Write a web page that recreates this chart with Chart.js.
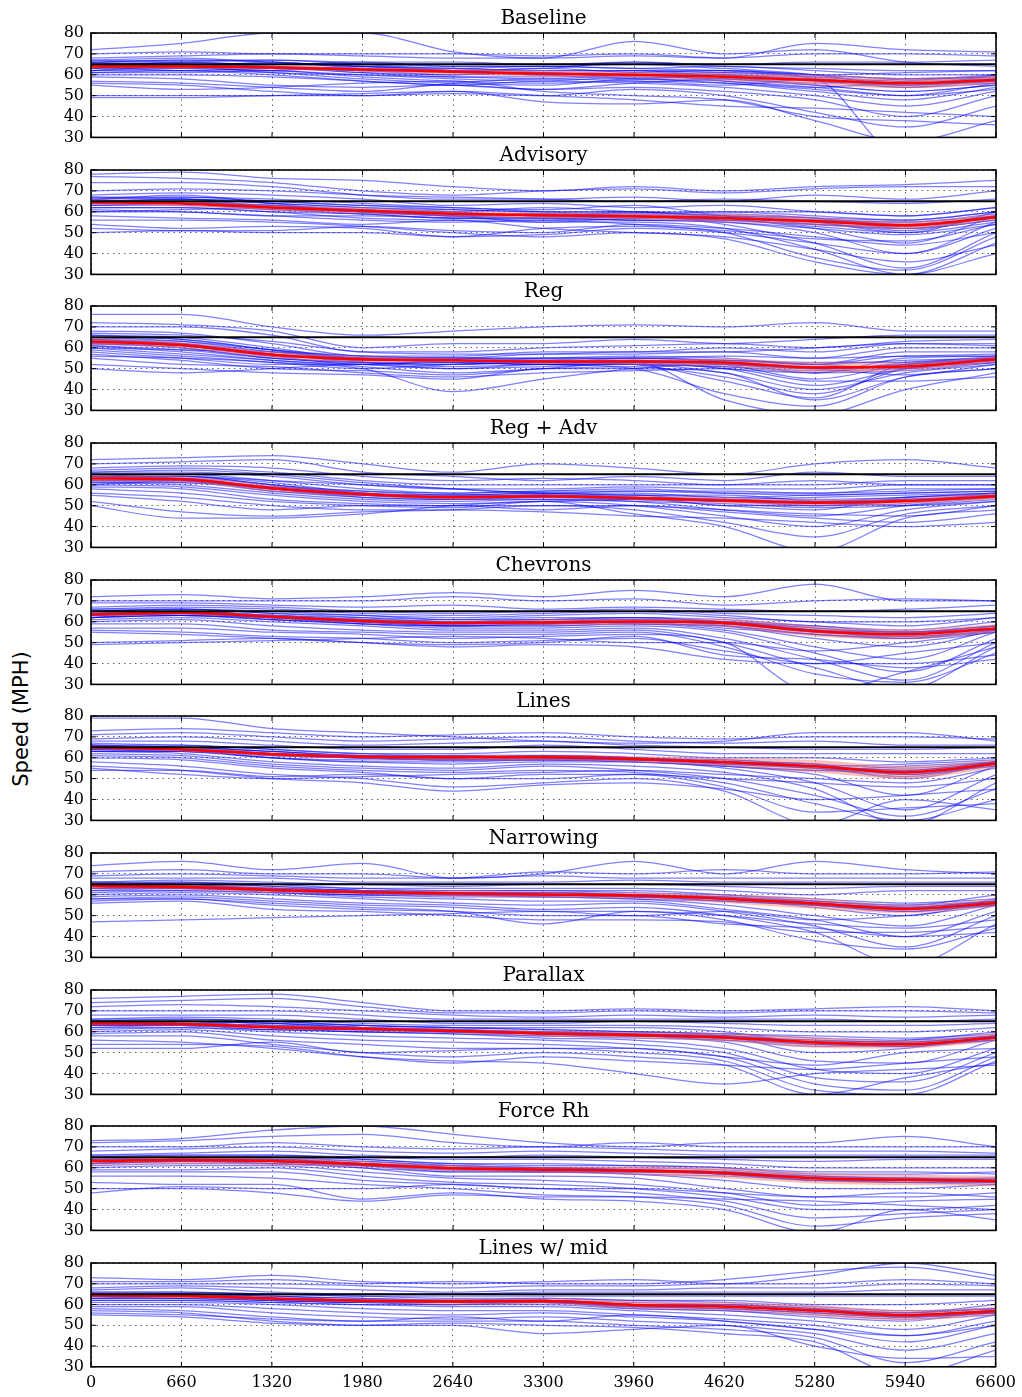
<!DOCTYPE html>
<html>
<head>
<meta charset="utf-8">
<script src="https://cdn.jsdelivr.net/npm/chart.js@4.4.1/dist/chart.umd.min.js"></script>
<style>
  body { margin: 0; background: #fff; }
  #page { position: relative; width: 1022px; height: 1397px; overflow: hidden; }
  #page canvas { position: absolute; left: 0; }
  #ylabel {
    position: absolute; left: 21px; top: 719px;
    transform: translate(-50%, -50%) rotate(-90deg);
    font: 21px "DejaVu Sans", sans-serif; white-space: nowrap; color: #000;
  }
</style>
</head>
<body>
<div id="page"><div id="ylabel">Speed (MPH)</div></div>
<script>
// sample positions along the road (ft)
const stations = [0, 660, 1320, 1980, 2640, 3300, 3960, 4620, 5280, 5940, 6600];
const speedLimit = 65;

const panelNames = ['Baseline', 'Advisory', 'Reg', 'Reg + Adv', 'Chevrons', 'Lines',
                    'Narrowing', 'Parallax', 'Force Rh', 'Lines w/ mid'];

// ---- Baseline
const baselineMean = [64, 64, 63.5, 62.5, 61.5, 60.5, 60, 59, 57.5, 56, 57.5];
const baselineSpread = [1, 1, 1, 1, 1.5, 1.5, 1.5, 2, 2.5, 2.5, 2];
const baselineRuns = [
  [72,75,80,80,71,68,76,70,72,66,64], [70,71,70,70,70,69,70,68,75,72,71],
  [68,69,70,69,68,68,69,68,70,70,69], [66,67,67,66,66,65,66,65,66,66,67],
  [65,66,65,66,64,64,65,63,60,55,60], [64,65,64,63,62,62,62,61,58,20,30],
  [63,64,63,62,60,61,58,57,54,50,56], [62,63,62,60,58,57,59,58,55,52,55],
  [61,62,61,58,56,55,58,56,52,48,54], [60,60,59,57,55,57,56,54,50,45,52],
  [59,58,55,54,55,53,54,52,48,40,50], [57,56,54,52,56,58,57,55,58,54,56],
  [56,55,52,50,51,50,53,50,42,35,45], [55,53,54,56,57,52,50,48,40,38,36],
  [50,50,50,50,52,50,48,45,44,42,40], [49,49,50,51,52,47,46,48,38,28,38],
  [64,66,67,65,63,64,63,64,62,60,60], [66,67,66,64,62,60,61,62,60,58,58],
  [63,65,64,61,59,59,60,60,59,57,58], [65,65,65,64,63,62,62,62,60,58,59],
  [62,62,60,57,55,53,56,58,57,55,57], [67,68,66,64,62,63,66,64,63,62,62],
  [65,64,66,63,62,63,61,60,58,55,57], [63,63,62,64,62,60,62,59,56,58,59],
  [64,62,63,61,60,61,60,61,59,56,56], [66,65,64,62,63,61,59,58,55,52,55],
  [62,64,61,60,59,58,60,57,54,57,60], [67,66,65,65,64,64,63,62,60,61,62],
  [61,61,62,59,57,56,57,56,53,50,53], [64,65,63,62,61,60,58,60,57,54,58]
];

// ---- Advisory
const advisoryMean = [64.5, 64, 62, 60.5, 59, 58.3, 57.8, 57, 55.5, 53.5, 57.4];
const advisorySpread = [1.5, 1.5, 1.5, 1.5, 1.5, 1.5, 1.5, 2, 2, 2, 1.5];
const advisoryRuns = [
  [78,79,76,75,72,70,72,70,72,73,75], [77,76,74,70,68,70,71,69,71,72,72],
  [74,74,72,68,66,66,67,65,68,66,70], [70,71,70,68,67,66,65,66,65,64,66],
  [68,69,68,66,63,64,62,63,60,58,62], [66,67,66,64,62,61,63,58,55,50,60],
  [65,66,64,62,60,58,60,57,52,45,58], [64,65,62,60,58,57,56,55,50,40,55],
  [63,64,61,59,57,57,58,54,45,33,50], [62,62,60,57,56,55,55,52,42,30,45],
  [61,60,58,56,55,56,54,50,38,32,48], [60,60,58,58,57,56,58,56,56,55,58],
  [58,57,56,54,56,52,50,48,42,36,44], [56,56,55,53,50,48,50,47,36,30,40],
  [54,52,53,52,48,49,52,50,45,40,52], [52,51,51,53,51,50,54,52,48,44,50],
  [50,51,50,50,48,52,53,51,47,46,54], [65,66,65,63,61,60,60,60,58,56,60],
  [67,67,65,63,62,60,59,60,60,58,62], [63,64,63,61,59,59,58,59,57,54,58],
  [66,68,64,60,60,62,60,58,54,52,58], [60,61,62,60,58,55,57,58,57,52,56],
  [65,64,63,60,59,58,57,56,54,52,56], [64,65,62,61,58,59,58,57,56,54,57],
  [66,64,63,61,60,58,59,57,55,51,58], [63,63,61,60,58,57,56,56,53,50,55],
  [64,66,62,59,59,58,57,58,56,55,59], [62,62,60,59,57,57,56,55,52,49,54],
  [67,66,64,62,61,60,60,58,57,56,60], [65,65,63,60,58,59,58,56,54,53,57]
];

// ---- Reg
const regMean = [63, 61.3, 56.7, 54.5, 54, 53.4, 53.4, 52.9, 50.6, 51, 54.5];
const regSpread = [1.5, 1.5, 1.5, 1.5, 1, 1, 1.5, 2, 2.5, 2, 1.5];
const regRuns = [
  [76,76,70,66,68,70,71,70,72,68,68], [72,71,68,60,62,62,64,62,64,66,66],
  [70,70,66,58,58,60,61,62,60,63,64], [68,67,62,56,56,58,58,60,58,62,62],
  [66,65,60,55,55,57,57,58,55,60,60], [65,64,59,54,54,55,56,55,52,58,58],
  [64,62,57,53,52,54,55,53,48,55,56], [63,61,56,52,54,53,54,52,45,52,55],
  [62,60,55,53,51,52,52,50,42,50,54], [61,58,54,52,50,51,52,48,40,48,52],
  [60,57,54,51,48,50,51,46,38,50,53], [59,56,53,50,52,53,52,44,36,52,54],
  [58,55,52,52,53,52,50,38,32,46,50], [57,54,50,49,47,50,53,35,28,40,48],
  [56,55,53,50,39,45,50,52,50,47,52], [55,52,51,48,46,48,49,50,44,44,46],
  [52,50,48,47,45,50,50,48,35,46,50], [50,48,50,52,50,52,52,54,52,56,56],
  [64,63,59,56,55,55,55,56,55,56,57], [67,66,63,58,57,57,58,58,60,62,61],
  [62,61,57,55,54,53,55,54,52,54,55], [60,59,58,55,53,52,54,50,48,53,55],
  [64,62,57,54,54,53,53,53,51,51,55], [63,61,56,55,53,54,54,52,50,52,54],
  [65,63,58,55,55,54,53,54,52,50,56], [62,60,55,53,53,52,52,51,48,49,53],
  [64,61,57,54,54,53,54,53,50,52,55], [61,59,55,53,52,53,52,51,49,50,53],
  [63,62,58,56,55,55,55,54,53,53,56], [66,64,59,55,54,54,53,52,50,51,54]
];

// ---- Reg + Adv
const regAdvMean = [63, 62.6, 58.3, 55.5, 54, 54.5, 53.7, 52.5, 51.4, 52.2, 54.5];
const regAdvSpread = [1.5, 1.5, 1.5, 1, 1, 1, 1, 1.5, 1.5, 1.5, 1.5];
const regAdvRuns = [
  [72,73,74,70,66,70,68,65,70,72,68], [70,71,72,66,64,62,64,62,66,64,64],
  [68,69,68,64,62,63,62,60,60,62,62], [67,68,66,62,60,60,60,60,62,60,60],
  [66,66,64,60,58,58,59,58,58,60,60], [65,65,62,58,56,57,57,56,56,58,58],
  [64,64,61,56,55,56,56,54,55,56,57], [63,63,60,55,54,55,55,52,52,54,56],
  [62,62,58,54,53,54,54,50,50,52,55], [61,60,56,53,52,53,52,48,45,50,54],
  [60,59,55,52,51,52,50,45,40,48,52], [59,58,53,51,50,50,48,42,35,46,50],
  [58,56,52,50,49,52,46,40,28,44,48], [56,54,50,48,48,47,45,44,42,40,42],
  [55,52,48,50,50,48,50,47,44,42,46], [52,47,45,47,48,50,50,48,46,45,50],
  [50,44,44,46,50,52,53,50,48,54,55], [64,64,62,60,58,56,55,55,52,50,52],
  [66,67,65,61,58,56,57,57,56,57,58], [62,61,59,56,54,55,54,53,54,55,56],
  [63,64,60,57,56,57,58,56,55,56,57], [60,62,58,55,54,54,53,52,50,53,54],
  [64,63,59,56,54,55,54,53,52,53,55], [63,62,58,55,54,54,53,52,51,52,54],
  [62,62,57,55,53,54,54,53,50,51,55], [64,64,60,56,55,55,54,52,52,53,54],
  [63,63,58,56,54,55,53,53,51,52,56], [65,63,59,57,55,56,55,54,53,54,56],
  [61,61,57,54,53,53,52,51,49,50,53], [63,62,58,55,55,54,54,52,52,52,55]
];

// ---- Chevrons
const chevronsMean = [63.5, 64.3, 62.4, 60.4, 59.4, 59.7, 60.1, 59.4, 55.5, 54, 56.8];
const chevronsSpread = [1, 1, 1, 1, 1, 1.5, 1.5, 2, 2.5, 2.5, 2];
const chevronsRuns = [
  [72,73,71,72,74,72,75,72,78,70,70], [70,70,70,70,72,70,71,68,70,71,70],
  [69,69,68,67,68,66,67,66,65,66,68], [67,68,67,65,64,65,66,64,63,62,64],
  [66,66,65,63,62,63,64,62,60,58,62], [65,66,64,62,60,61,62,60,56,52,58],
  [64,65,63,61,59,60,61,58,52,48,56], [63,64,62,60,58,58,59,56,48,42,55],
  [62,63,61,59,57,57,58,55,45,36,52], [61,62,60,58,56,56,57,52,42,32,50],
  [60,61,58,56,55,55,56,50,38,28,48], [59,59,56,55,54,54,55,48,35,31,45],
  [57,57,55,54,52,53,54,50,26,36,48], [56,55,53,52,50,51,52,46,40,40,44],
  [55,54,52,50,49,50,53,44,42,38,42], [50,51,52,50,48,49,48,42,40,45,50],
  [49,50,51,52,53,52,50,50,46,50,55], [64,64,63,62,61,62,62,61,58,56,60],
  [65,66,64,63,61,61,62,60,58,55,58], [63,64,62,60,59,59,60,60,57,55,57],
  [62,63,62,60,58,59,60,57,54,52,56], [66,67,66,64,63,64,65,63,60,60,62],
  [64,65,63,61,60,60,61,60,56,54,57], [63,64,62,60,59,59,60,59,55,53,56],
  [62,63,61,60,59,60,59,58,54,52,55], [65,65,63,61,60,61,61,60,57,55,58],
  [63,64,62,59,58,59,60,59,55,54,57], [64,63,62,61,60,59,60,60,56,55,56],
  [62,64,61,59,58,58,59,58,54,53,55], [64,65,63,60,60,60,60,59,56,55,58]
];

// ---- Lines
const linesMean = [65, 64, 61.7, 60.5, 60.2, 60.2, 59.4, 57.9, 55.9, 53, 57.1];
const linesSpread = [1, 1, 1, 1, 1.5, 1.5, 1.5, 2, 3, 3, 2];
const linesRuns = [
  [79,79,74,72,70,68,67,68,72,72,68], [73,74,72,70,71,72,70,69,70,70,69],
  [71,72,70,68,69,70,68,67,68,66,66], [69,70,68,66,67,68,66,65,64,64,65],
  [68,68,66,64,64,66,64,62,62,62,62], [67,66,64,62,62,63,62,60,60,58,60],
  [66,65,63,61,60,61,60,58,56,50,58], [65,64,62,60,59,60,59,56,52,42,56],
  [64,63,60,58,57,58,58,55,48,35,52], [63,62,58,56,55,57,56,53,45,28,48],
  [62,61,57,55,54,56,54,50,42,32,45], [61,60,56,54,53,54,53,48,38,30,40],
  [60,59,55,53,50,52,52,46,34,36,38], [58,56,52,50,46,48,50,44,28,40,35],
  [56,54,50,48,44,47,48,45,40,42,45], [54,54,51,52,50,50,52,50,48,46,50],
  [55,52,50,51,52,53,54,52,50,48,55], [65,65,63,61,61,60,59,58,56,54,58],
  [66,66,64,62,61,61,60,59,57,55,58], [64,64,62,60,59,59,59,57,55,53,57],
  [65,64,60,58,58,59,58,56,54,56,58], [63,63,62,61,60,61,60,58,56,57,59],
  [65,64,62,61,60,60,59,58,56,53,57], [66,65,62,60,60,61,60,58,55,52,57],
  [64,63,61,60,59,59,59,57,56,54,58], [65,65,63,61,61,60,59,58,57,52,56],
  [64,64,61,60,60,61,60,57,55,51,57], [66,64,62,61,61,60,59,59,56,54,58],
  [63,63,60,59,59,59,58,56,54,53,56], [65,64,62,60,60,60,60,58,57,52,57]
];

// ---- Narrowing
const narrowingMean = [64.2, 63.8, 62.3, 61.2, 60.7, 60.1, 59.6, 58.1, 55.8, 53.2, 56.1];
const narrowingSpread = [1.5, 1.5, 1.5, 1, 1.5, 1.5, 1.5, 2, 2.5, 2, 2];
const narrowingRuns = [
  [74,76,72,75,68,70,76,70,76,72,70], [71,72,70,70,68,71,70,72,70,70,71],
  [69,70,69,68,68,69,68,68,68,68,68], [68,68,68,66,66,66,67,66,66,66,66],
  [66,67,66,65,64,65,65,64,63,64,64], [65,66,65,63,63,63,63,62,60,62,62],
  [64,65,64,62,62,62,62,60,57,55,60], [63,64,63,61,61,61,60,58,54,50,58],
  [62,63,62,60,60,59,58,55,50,45,55], [61,62,61,59,58,57,57,53,48,40,52],
  [60,61,60,58,56,55,56,52,45,35,50], [59,60,58,56,55,53,54,50,42,26,46],
  [58,59,57,55,54,52,52,48,38,34,44], [57,58,55,53,52,50,50,46,44,40,42],
  [56,57,53,52,50,48,48,47,42,42,45], [58,58,56,54,52,46,52,50,46,44,48],
  [47,48,49,50,51,52,50,52,48,50,55], [64,64,63,62,61,61,60,59,57,55,57],
  [65,65,63,62,61,60,60,58,56,54,57], [63,63,62,61,60,60,59,58,56,53,56],
  [66,66,64,63,62,62,61,60,58,56,58], [62,62,61,60,59,59,58,57,55,52,55],
  [64,64,62,61,61,60,60,58,56,53,56], [65,64,63,62,61,61,60,59,56,54,57],
  [63,63,62,61,60,60,59,58,55,52,56], [64,65,62,61,60,59,59,57,55,53,55],
  [65,63,63,62,61,60,60,58,57,54,57], [63,64,61,60,60,60,59,58,55,52,56],
  [64,63,62,61,61,61,60,59,56,54,57], [66,65,63,62,61,60,59,57,55,53,55]
];

// ---- Parallax
const parallaxMean = [64, 63.7, 62.2, 61.4, 60.4, 59.2, 58.4, 57.3, 54.9, 54, 57.3];
const parallaxSpread = [1, 1, 1, 1, 1, 1.5, 1.5, 2, 2.5, 2, 2];
const parallaxRuns = [
  [76,77,78,74,70,70,71,70,71,72,70], [74,75,76,72,69,69,70,69,70,70,69],
  [72,73,72,70,68,67,68,67,68,67,68], [70,70,70,68,66,66,66,66,66,65,66],
  [68,68,68,66,64,64,65,64,63,63,64], [66,67,66,64,63,63,63,62,60,60,62],
  [65,66,65,63,62,62,62,60,55,56,60], [64,65,64,62,61,60,60,58,50,52,58],
  [63,64,62,61,60,59,58,55,46,45,56], [62,63,61,60,59,57,56,52,42,40,52],
  [61,62,60,58,57,56,54,50,38,36,50], [60,61,58,56,55,54,52,48,35,32,48],
  [59,60,56,54,52,52,50,46,32,30,46], [58,58,54,50,48,50,48,44,30,38,45],
  [56,55,52,48,46,45,40,35,40,42,44], [54,54,53,48,45,48,46,44,42,45,48],
  [52,52,55,50,51,52,52,48,44,50,52], [64,65,64,63,62,61,60,59,57,56,58],
  [65,65,64,62,61,60,59,58,56,55,58], [63,63,62,61,60,59,58,57,55,54,56],
  [66,66,65,63,62,61,60,59,58,57,59], [62,62,61,60,59,58,57,56,53,54,56],
  [64,64,62,61,60,59,58,57,55,54,57], [65,64,63,62,61,60,59,58,55,53,58],
  [63,63,62,61,60,59,58,57,54,54,57], [64,65,62,61,61,59,59,57,56,55,58],
  [63,63,61,61,60,58,58,56,54,53,56], [65,64,63,62,60,60,59,58,55,55,58],
  [64,63,62,60,60,59,58,57,54,53,57], [64,64,63,62,61,59,58,58,55,54,57]
];

// ---- Force Rh
const forceRhMean = [63.2, 63.7, 63.2, 61.7, 59.8, 59.1, 58.6, 57.5, 55, 54.2, 53.7];
const forceRhSpread = [2, 2, 2, 1.5, 1.5, 1.5, 2, 2.5, 2.5, 2.5, 2.5];
const forceRhRuns = [
  [73,74,78,80,76,72,70,72,72,75,70], [72,73,75,76,72,70,72,70,70,70,70],
  [70,70,72,70,69,70,69,68,68,68,67], [68,69,70,68,67,68,67,66,66,66,66],
  [66,67,68,66,65,66,65,64,63,64,64], [65,66,66,65,64,64,63,62,60,60,60],
  [64,65,65,64,62,62,61,60,57,57,58], [63,64,64,62,60,60,59,57,54,54,55],
  [62,63,63,61,58,58,57,54,50,50,52], [61,62,62,60,56,56,55,50,46,46,48],
  [60,61,61,58,55,54,52,48,42,44,45], [59,59,60,56,53,52,50,46,40,40,42],
  [58,58,58,54,52,50,48,44,36,38,40], [56,56,55,52,50,47,46,42,32,36,38],
  [53,52,52,45,48,45,44,40,29,40,35], [50,50,48,44,47,46,46,45,44,42,40],
  [48,51,50,50,52,50,50,48,46,48,46], [64,64,64,63,61,60,60,59,56,55,54],
  [65,65,65,63,61,60,59,58,55,54,54], [63,64,63,62,60,59,59,57,55,53,53],
  [62,63,62,60,58,58,57,56,54,53,52], [66,66,66,64,62,61,61,60,58,58,57],
  [63,64,63,62,60,59,59,58,55,54,54], [64,64,64,62,60,60,59,57,56,55,54],
  [62,63,62,61,59,58,58,57,54,53,53], [63,64,63,62,60,59,58,58,55,55,54],
  [64,63,63,61,60,59,59,57,55,54,53], [62,63,63,61,59,59,58,57,54,54,54],
  [63,64,64,62,61,60,59,58,56,55,55], [64,64,63,61,60,58,58,57,55,54,53]
];

// ---- Lines w/ mid
const linesMidMean = [64.5, 64.1, 62.9, 61.8, 61.4, 61.7, 59.8, 59.1, 57.1, 54.8, 56.8];
const linesMidSpread = [1, 1, 1, 1, 1.5, 1.5, 2, 2, 2.5, 2.5, 2];
const linesMidRuns = [
  [73,72,74,71,70,71,72,70,74,80,74], [71,71,72,70,71,70,70,72,76,78,72],
  [70,70,70,69,68,69,69,70,70,72,70], [68,69,68,67,66,67,67,68,68,70,69],
  [67,68,66,65,65,66,66,66,66,67,67], [66,66,65,64,64,64,64,64,64,64,64],
  [65,65,64,63,62,63,62,62,60,60,62], [64,64,63,62,61,62,60,60,57,56,60],
  [63,63,62,61,60,61,58,57,54,52,58], [62,62,61,60,59,59,57,55,52,48,55],
  [61,61,60,58,57,57,55,53,50,45,52], [60,60,58,56,55,56,54,52,48,42,50],
  [59,59,56,54,53,54,52,50,46,38,46], [58,57,54,52,52,52,50,48,44,32,42],
  [57,56,52,50,51,50,49,46,42,26,38], [55,54,51,50,50,46,48,50,40,34,35],
  [56,55,53,52,54,52,55,52,48,45,50], [64,64,63,62,62,62,60,60,58,56,58],
  [65,65,64,63,62,62,60,59,57,55,57], [63,63,62,61,61,61,59,58,56,54,56],
  [66,66,65,64,63,63,62,61,59,57,58], [62,62,61,60,60,60,58,57,55,53,55],
  [64,64,63,62,61,62,60,59,57,55,57], [65,64,63,62,62,62,60,60,58,55,57],
  [64,63,62,61,61,61,59,59,57,54,56], [65,65,63,62,61,62,60,59,57,55,57],
  [63,64,62,61,61,61,59,58,56,54,56], [65,64,64,62,62,62,61,60,58,56,58],
  [64,64,62,61,60,61,59,58,56,54,56], [64,65,63,62,62,62,60,59,57,55,57]
];

const panels = [
  [baselineRuns, baselineMean, baselineSpread],
  [advisoryRuns, advisoryMean, advisorySpread],
  [regRuns, regMean, regSpread],
  [regAdvRuns, regAdvMean, regAdvSpread],
  [chevronsRuns, chevronsMean, chevronsSpread],
  [linesRuns, linesMean, linesSpread],
  [narrowingRuns, narrowingMean, narrowingSpread],
  [parallaxRuns, parallaxMean, parallaxSpread],
  [forceRhRuns, forceRhMean, forceRhSpread],
  [linesMidRuns, linesMidMean, linesMidSpread]
];

Chart.defaults.font.family = '"DejaVu Serif", serif';
Chart.defaults.font.size = 16;
Chart.defaults.color = '#000';

const toPoints = (vals) => vals.map((v, i) => ({ x: stations[i], y: v }));

// black frame + inward tick marks like the original plot
const framePlugin = {
  id: 'frame',
  afterDatasetsDraw(chart) {
    const { ctx, chartArea: a, scales: { x, y } } = chart;
    ctx.save();
    ctx.strokeStyle = '#000';
    ctx.lineWidth = 1;
    ctx.beginPath();
    x.ticks.forEach(t => {
      const px = x.getPixelForValue(t.value);
      ctx.moveTo(px, a.top); ctx.lineTo(px, a.top + 5);
      ctx.moveTo(px, a.bottom); ctx.lineTo(px, a.bottom - 5);
    });
    y.ticks.forEach(t => {
      const py = y.getPixelForValue(t.value);
      ctx.moveTo(a.left, py); ctx.lineTo(a.left + 5, py);
      ctx.moveTo(a.right, py); ctx.lineTo(a.right - 5, py);
    });
    ctx.stroke();
    ctx.lineWidth = 1.6;
    ctx.strokeRect(a.left, a.top, a.right - a.left, a.bottom - a.top);
    ctx.restore();
  }
};

const page = document.getElementById('page');
const PLOT_TOP = 33, PLOT_H = 109, PITCH = 136.67, HEAD = 33;

panels.forEach(([runs, mean, spread], i) => {
  const last = i === panels.length - 1;
  const canvas = document.createElement('canvas');
  const h = HEAD + PLOT_H + (last ? 30 : 12);
  canvas.width = 1022;
  canvas.height = h;
  canvas.style.top = (PLOT_TOP + i * PITCH - HEAD) + 'px';
  page.appendChild(canvas);

  const datasets = [
    { data: toPoints(stations.map(() => speedLimit)), borderColor: '#000', borderWidth: 2, order: 0 },
    { data: toPoints(mean), borderColor: '#ff0000', borderWidth: 2.5, order: 1,
      cubicInterpolationMode: 'monotone' },
    { data: toPoints(mean.map((m, k) => m - spread[k])), borderWidth: 0, borderColor: 'rgba(0,0,0,0)',
      order: 2, cubicInterpolationMode: 'monotone' },
    { data: toPoints(mean.map((m, k) => m + spread[k])), borderWidth: 0, borderColor: 'rgba(0,0,0,0)',
      order: 2, fill: '-1', backgroundColor: 'rgba(250,128,114,0.5)', cubicInterpolationMode: 'monotone' }
  ];
  runs.forEach(r => datasets.push({
    data: toPoints(r), borderColor: 'rgba(0,0,255,0.5)', borderWidth: 1.25, order: 3,
    cubicInterpolationMode: 'monotone'
  }));

  new Chart(canvas, {
    type: 'line',
    data: { datasets },
    options: {
      responsive: false,
      animation: false,
      events: [],
      elements: { point: { radius: 0 } },
      layout: { padding: { left: 0, right: 26, top: 0, bottom: last ? 4 : 12 } },
      plugins: {
        legend: { display: false },
        tooltip: { enabled: false },
        title: {
          display: true, text: panelNames[i], fullSize: false,
          font: { size: 20, weight: 'normal' }, padding: { top: 7, bottom: 2 }
        }
      },
      scales: {
        x: {
          type: 'linear', min: 0, max: 6600,
          grid: { color: 'rgba(0,0,0,0.6)', lineWidth: 1, drawTicks: false },
          border: { display: false, dash: [1.5, 4] },
          ticks: { display: last, stepSize: 660, padding: 6, maxRotation: 0, autoSkip: false,
                   callback: v => String(v) }
        },
        y: {
          min: 30, max: 80,
          grid: { color: 'rgba(0,0,0,0.6)', lineWidth: 1, drawTicks: false },
          border: { display: false, dash: [1.5, 4] },
          ticks: { stepSize: 10, padding: 7, autoSkip: false },
          afterFit: s => { s.width = 91; }
        }
      }
    },
    plugins: [framePlugin]
  });
});
</script>
</body>
</html>
